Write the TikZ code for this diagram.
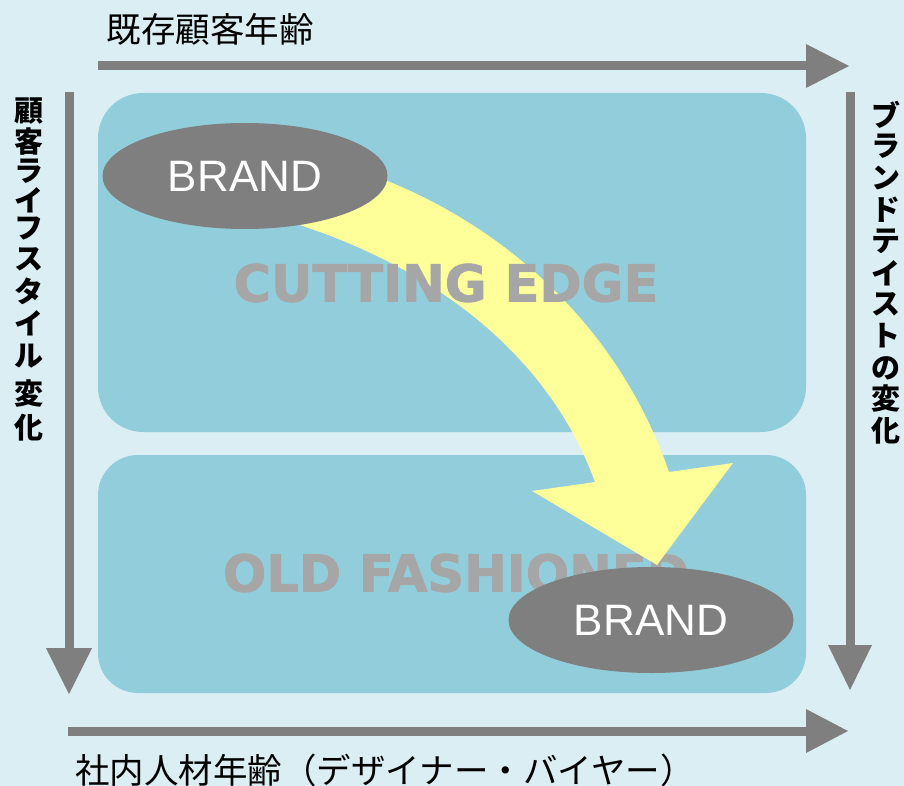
\documentclass[tikz,border=0pt]{standalone}
\usepackage{fontspec}
\newfontfamily\jp{Noto Sans CJK JP}
\newfontfamily\dv{DejaVu Sans}[BoldFeatures={FakeBold=1.6}]
\newfontfamily\lib{Liberation Sans}
\definecolor{bgc}{HTML}{DBEEF4}
\definecolor{boxc}{HTML}{92CDDC}
\definecolor{arrc}{HTML}{7F7F7F}
\definecolor{yel}{HTML}{FFFF99}
\definecolor{wm}{HTML}{A6A6A6}
\usetikzlibrary{shapes.geometric}
\tikzset{
  zone/.style={fill=boxc, draw=none},
  shaft/.style={draw=arrc, line width=9pt},
  headtip/.style={fill=arrc, draw=none},
  brand/.style={ellipse, fill=arrc, draw=none, minimum width=285pt, minimum height=106pt, inner sep=0pt,
    text=white, font=\lib\fontsize{44}{44}\selectfont},
  wmark/.style={text=wm, font=\dv\bfseries\fontsize{51}{51}\selectfont, inner sep=0pt},
  axislbl/.style={font=\jp\fontsize{34.5}{36}\selectfont, inner sep=0pt},
  vchar/.style={font=\jp\bfseries\fontsize{29}{29}\selectfont, inner sep=0pt}
}
\begin{document}
\begin{tikzpicture}[x=1pt,y=-1pt]
\useasboundingbox (0,0) rectangle (904,786);
\fill[bgc] (0,0) rectangle (904,786);
% zones
\path[zone, rounded corners=45pt] (98,93) rectangle (806,432);
\path[zone, rounded corners=40pt] (98,455) rectangle (806,693);
% axis arrows
\coordinate (ts) at (98,66); \coordinate (te) at (808,66);
\draw[shaft] (ts) -- (te);
\path[headtip] (806,44) -- (849,66) -- (806,88) -- cycle;
\coordinate (ls) at (69,92); \coordinate (le) at (69,650);
\draw[shaft] (ls) -- (le);
\path[headtip] (46,648) -- (92,648) -- (69,694) -- cycle;
\coordinate (rs) at (850,92); \coordinate (re) at (850,647);
\draw[shaft] (rs) -- (re);
\path[headtip] (828,645) -- (872,645) -- (850,690) -- cycle;
\coordinate (bs) at (68,731); \coordinate (be) at (808,731);
\draw[shaft] (bs) -- (be);
\path[headtip] (806,709) -- (848,731) -- (806,753) -- cycle;
% labels
\node[axislbl] (toplbl) at (210,29) {既存顧客年齢};
\node[axislbl] (botlbl) at (385,770) {社内人材年齢（デザイナー・バイヤー）};
\foreach \c/\yy [count=\i] in {顧/111, 客/142, ラ/171, イ/200, フ/229, ス/259, タ/291, イ/323, ル/356, 変/394, 化/428}
  \node[vchar] (lv\i) at (29,\yy) {\c};
\foreach \c/\yy [count=\i] in {ブ/115, ラ/146, ン/178, ド/210, テ/241, イ/273, ス/304, ト/336, の/368, 変/399, 化/431}
  \node[vchar] (rv\i) at (886,\yy) {\c};
% watermark text (lower)
\node[wmark] (old) at (456,573) {OLD FASHIONED};
% yellow curved arrow
\fill[yel] (385,180) .. controls (510,230) and (620,330) .. (669,472)
  -- (733,463) -- (657,565) -- (532,491) -- (595,482)
  .. controls (545,345) and (420,262) .. (290,222) -- cycle;
\node[wmark] (cut) at (446,283) {CUTTING EDGE};
% brand ellipses
\node[brand] (b1) at (245,176) {BRAND};
\node[brand] (b2) at (651,620) {BRAND};
\end{tikzpicture}
\end{document}
